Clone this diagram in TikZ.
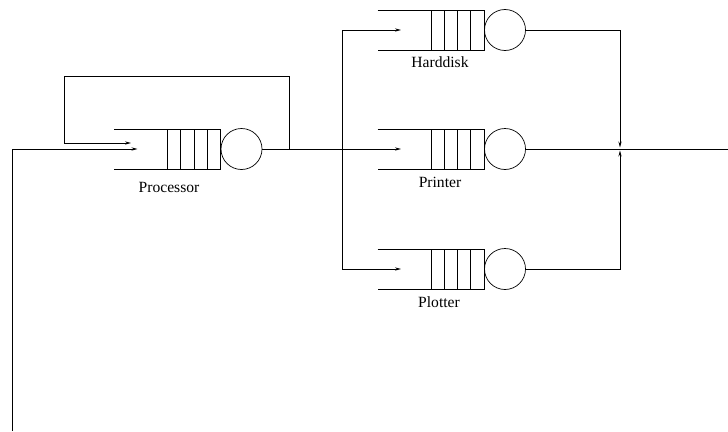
\documentclass[tikz,border=0pt]{standalone}
\usepackage{fontspec}
\setmainfont{Liberation Serif}
\usetikzlibrary{arrows.meta}
\newcommand\qstation[6]{% name, cx, cy, label, label dx, label dy
  \node[server] (#1) at (#2,#3) {};
  \draw (#2-127.5,#3-20) -- (#2-21,#3-20) -- (#2-21,#3+20) -- (#2-127.5,#3+20);
  \foreach \i in {0,1,2,3} \draw (#2-74+13.25*\i,#3-20) -- ++(0,40);
  \coordinate (#1in) at (#2-104,#3);
  \node[lbl] (#1lbl) at (#2+#5,#3+#6) {#4};
}
\begin{document}
\begin{tikzpicture}[x=1pt,y=-1pt,line width=0.7pt,
  server/.style={circle,draw,minimum size=41pt,inner sep=0pt},
  lbl/.style={font=\fontsize{15.6}{18}\selectfont,inner sep=0pt},
  flow/.style={-{Stealth[length=6pt,width=3.2pt]}}]
\useasboundingbox (0,0) rectangle (728,431);
\qstation{proc}{241.5}{149}{Processor}{-72.5}{38}
\qstation{hd}{505}{30}{Harddisk}{-65}{32.5}
\qstation{printer}{505}{149}{Printer}{-65}{33.5}
\qstation{plot}{505}{269}{Plotter}{-66}{33.5}
% processor inputs
\coordinate (procfb) at (131,143);
\coordinate (fb) at (289,149);
\coordinate (fbtop) at (64,76);
\coordinate (ext) at (12,431);
\draw[flow] (fb) |- (fbtop) |- (procfb);
\draw[flow] (ext) |- (procin);
% processor output and branching
\coordinate (split) at (342,149);
\draw[flow] (proc.east) -- (printerin);
\draw[flow] (split) |- (hdin);
\draw[flow] (split) |- (plotin);
% right side joining
\coordinate (joinup) at (620,147.5);
\coordinate (joindn) at (620,150.5);
\coordinate (out) at (728,149);
\draw[flow] (hd.east) -| (joinup);
\draw[flow] (plot.east) -| (joindn);
\draw (printer.east) -- (out);
\end{tikzpicture}
\end{document}
